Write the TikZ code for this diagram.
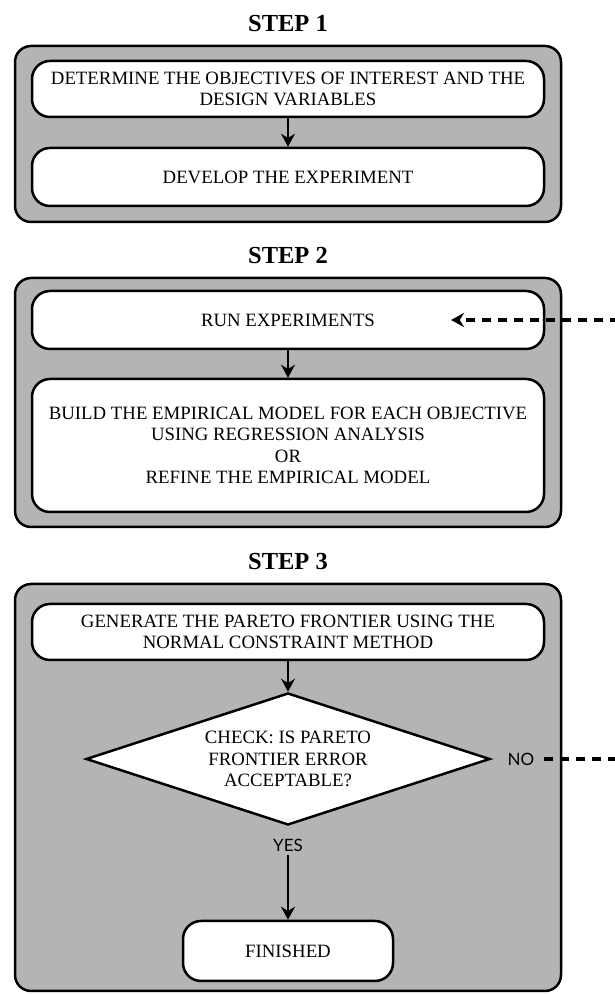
\documentclass[tikz,border=0pt]{standalone}
\usepackage{fontspec}
\setmainfont{Liberation Serif}
\newfontfamily\answerfont{Lato}
\usepackage{tikz}
\usetikzlibrary{positioning,shapes.geometric,arrows.meta}
\definecolor{stagegray}{RGB}{180,180,180}

\begin{document}
\begin{tikzpicture}[x=1pt, y=1pt, >={Stealth[length=13pt,width=14pt]},
      font=\fontsize{18.8}{21.5}\selectfont,
      stage/.style={draw, fill=stagegray, rounded corners=16pt, line width=2.5pt,
                    minimum width=546pt},
      task/.style={draw, fill=white, rounded corners=18pt, line width=2.5pt, align=center,
                   minimum width=512pt},
      check/.style={draw, fill=white, diamond, aspect=3, inner sep=0pt, line width=2.5pt,
                    align=center, minimum width=404pt, minimum height=132pt},
      title/.style={font=\fontsize{24.5}{28}\selectfont\bfseries},
      ans/.style={font=\answerfont\fontsize{17}{20}\selectfont},
      flow/.style={->, line width=2.5pt},
      back/.style={->, line width=3.5pt, dash pattern=on 9pt off 7pt}]
    \useasboundingbox (0,0) rectangle (615,994);

    % step boxes
    \node[title] (t1) at (288,970) {STEP 1};
    \node[stage, minimum height=176pt] (s1) at (288,860) {};
    \node[title] (t2) at (288,738) {STEP 2};
    \node[stage, minimum height=249pt] (s2) at (288,591.5) {};
    \node[title] (t3) at (288,432) {STEP 3};
    \node[stage, minimum height=407pt] (s3) at (288,206.5) {};

    \node[task, minimum height=56pt] (det)   at (288,905) {DETERMINE THE OBJECTIVES OF INTEREST AND THE\\DESIGN VARIABLES};
    \node[task, minimum height=58pt] (dev)   at (288,817) {DEVELOP THE EXPERIMENT};
    \node[task, minimum height=58pt] (run)   at (288,674) {RUN EXPERIMENTS};
    \node[task, minimum height=133pt] (build) at (288,548.5) {BUILD THE EMPIRICAL MODEL FOR EACH OBJECTIVE\\USING REGRESSION ANALYSIS\\OR\\REFINE THE EMPIRICAL MODEL};
    \node[task, minimum height=56pt] (gen)   at (288,362) {GENERATE THE PARETO FRONTIER USING THE\\NORMAL CONSTRAINT METHOD};
    \node[check] (chk) at (288,235) {CHECK: IS PARETO\\FRONTIER ERROR\\ACCEPTABLE?};
    \node[ans] (yes) at (288,149) {YES};
    \node[ans] (no)  at (521,235) {NO};
    \node[task, minimum width=210pt, minimum height=60pt] (fin) at (288,43) {FINISHED};

    \draw[flow] (det) -- (dev);
    \draw[flow] (run) -- (build);
    \draw[flow] (gen) -- (chk);
    \draw[flow] (yes) -- (fin);

    % loop back when the error is too large
    \coordinate (low)  at (650,235);
    \coordinate (high) at (650,674);
    \coordinate (into) at (451,674);
    \draw[back, shorten <=6pt] (no.east) -- (low) -- (high) -- (into);
  \end{tikzpicture}
\end{document}
